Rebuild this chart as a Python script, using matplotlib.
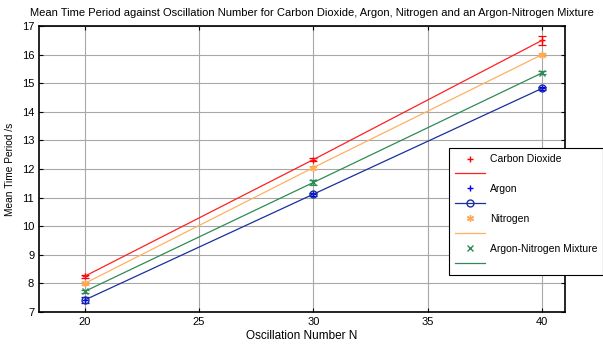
import numpy as np
import matplotlib
matplotlib.use('Agg')
import matplotlib.pyplot as plt

plt.rcParams['font.family'] = ['Liberation Sans', 'DejaVu Sans']

n_osc = [20, 30, 40]
co2 = [8.25, 12.33, 16.5]
co2_err = [0.05, 0.05, 0.15]
argon = [7.42, 11.12, 14.82]
argon_err = [0.12, 0.05, 0.06]
nitrogen = [8.0, 12.05, 16.0]
nitrogen_err = [0.05, 0.04, 0.05]
mixture = [7.72, 11.53, 15.36]
mixture_err = [0.06, 0.08, 0.05]

fig = plt.figure(figsize=(6.03, 3.45), dpi=100)
ax = fig.add_axes([39/603, 1-312/345, (565-39)/603, (312-26)/345])

series = [
    ("Carbon Dioxide", co2, co2_err, '#ff0000', '#ff2020', '+', None),
    ("Argon", argon, argon_err, '#0000ff', '#1a2f9c', '+', 'o'),
    ("Nitrogen", nitrogen, nitrogen_err, '#ffa850', '#ffb060', (6, 2, 0), None),
    ("Argon-Nitrogen Mixture", mixture, mixture_err, '#2e8b57', '#2e8b57', 'x', None),
]

for name, vals, err, c1, c2, m1, m2 in series:
    ax.errorbar(n_osc, vals, yerr=err, fmt='none', ecolor=c1, elinewidth=0.9,
                capsize=3, capthick=0.9)
    ax.plot(n_osc, vals, linestyle='none', marker=m1, color=c1, markersize=5,
            markeredgewidth=1.0, label=name)
    ax.plot(n_osc, vals, '-', color=c2, linewidth=0.9, marker=m2,
            markersize=5, markerfacecolor='none', markeredgewidth=1.0, label=' ')

ax.set_xlim(18, 41)
ax.set_ylim(7, 17)
ax.set_xticks([20, 25, 30, 35, 40])
ax.set_yticks(range(7, 18))
ax.grid(True, color='#a8a8a8', linewidth=0.8)
ax.set_axisbelow(True)
ax.tick_params(direction='in', top=True, right=True, labelsize=8, length=3)
for s in ax.spines.values():
    s.set_linewidth(1.2)

ax.set_xlabel('Oscillation Number N', fontsize=8.5, labelpad=2)
ax.set_ylabel('Mean Time Period /s', fontsize=7.3, labelpad=5)
ax.set_title('Mean Time Period against Oscillation Number for Carbon Dioxide, Argon, Nitrogen and an Argon-Nitrogen Mixture',
             fontsize=8, pad=7, x=0.518)

handles, labels = ax.get_legend_handles_labels()
lg = fig.legend(handles, labels, loc='upper left', bbox_to_anchor=(449/603, 1-148/345),
                fontsize=7.5, frameon=True, fancybox=False, edgecolor='black',
                framealpha=1, handlelength=2.9, labelspacing=0.47, borderpad=0.6,
                handletextpad=0.4, borderaxespad=0)
lg.get_frame().set_linewidth(0.8)

fig.savefig('out.png', dpi=100)
